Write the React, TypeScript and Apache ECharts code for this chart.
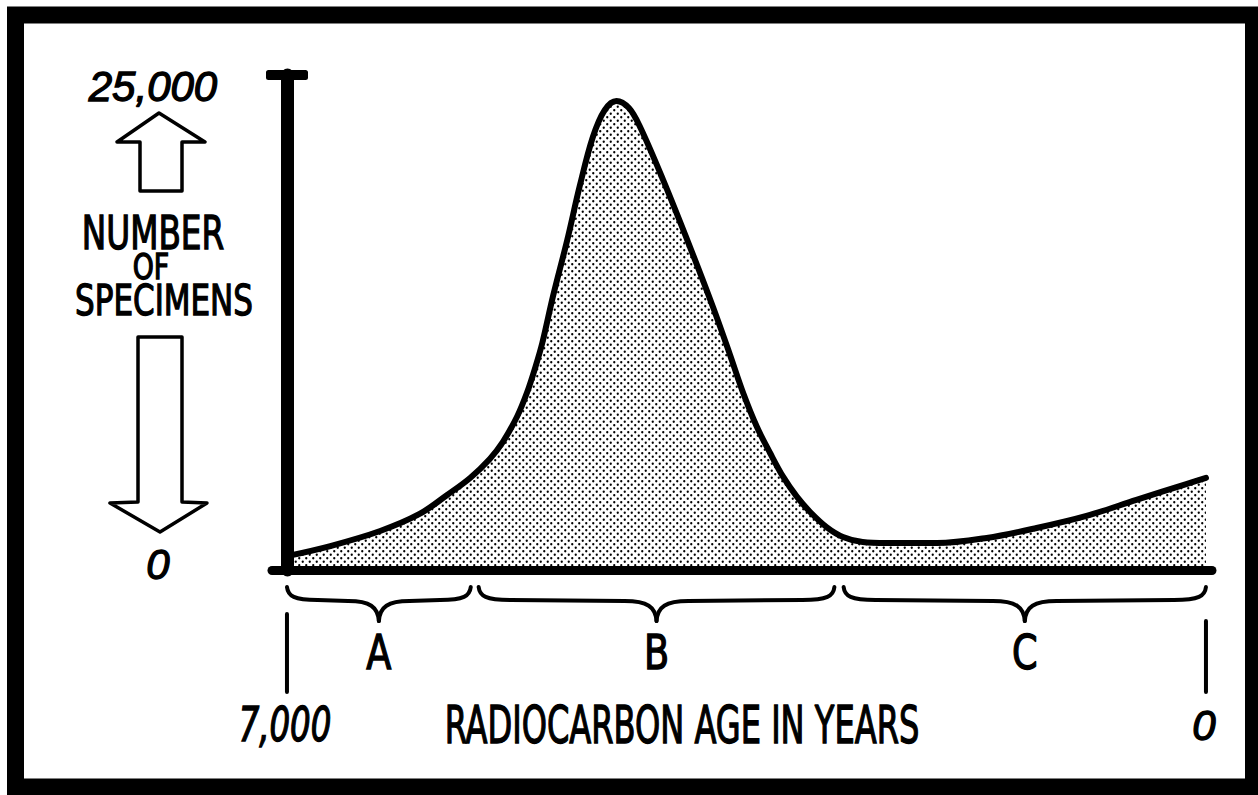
import React, { useEffect, useRef } from "react";
import * as echarts from "echarts";

// Radiocarbon age (years) and number of specimens
const AGES = [7000, 6670, 6290, 5990, 5780, 5605, 5455, 5355, 5245, 5170, 5110, 5055, 4975, 4865, 4770, 4670, 4580, 4490, 4395, 4310, 4135, 3930, 3755, 3625, 3525, 3420, 3320, 3220, 3115, 3015, 2890, 2765, 2615, 2430, 2050, 1670, 1290, 910, 530, 150, 0];
const COUNTS = [700, 1210, 1970, 2830, 3790, 4650, 5610, 6470, 7780, 8990, 10200, 11470, 13790, 16670, 19390, 21870, 23230, 23690, 23330, 22370, 19700, 16310, 13280, 10860, 8940, 7220, 5910, 4700, 3690, 2930, 2170, 1670, 1410, 1360, 1360, 1620, 2120, 2730, 3540, 4340, 4650];

const X_MIN = -46;
const X_MAX = 7114;
const Y_MAX = 25000;
const Y_TOP_LABEL = "25,000";
const Y_BOTTOM_LABEL = "0";
const Y_TITLE = ["NUMBER", "OF", "SPECIMENS"];
const X_TITLE = "RADIOCARBON AGE IN YEARS";
const END_TICKS = [7000, 0];
const END_TICK_LABELS = ["7,000", "0"];
const PERIODS = ["A", "B", "C"];
const PERIOD_RANGES = [
  [7000, 5600],
  [5540, 2830],
  [2760, 0],
];

const NARROW = "'Liberation Sans Narrow', 'DejaVu Sans Condensed', sans-serif";
const SANS = "'Liberation Sans', 'DejaVu Sans', sans-serif";

function txt(text: string, x: number, y: number, size: number, opts: any = {}) {
  return {
    type: "text",
    x,
    y,
    scaleX: opts.scaleX ?? 1,
    z: 10,
    style: {
      text,
      fill: "#000",
      stroke: "#000",
      lineWidth: opts.stroke ?? 1.3,
      fontSize: size,
      fontFamily: opts.family ?? NARROW,
      fontStyle: opts.italic ? "italic" : "normal",
      textAlign: "center",
      textVerticalAlign: "middle",
    },
  };
}

function brace(xa: number, xb: number) {
  const y0 = 587;
  const y1 = 600;
  const y2 = 621;
  const xm = (xa + xb) / 2;
  const r = Math.min(32, (xb - xa) / 6);
  const st = { stroke: "#000", lineWidth: 4, fill: null, lineCap: "round" };
  const bz = (x1: number, y1_: number, cpx1: number, cpy1: number, cpx2: number, cpy2: number, x2: number, y2_: number) => ({
    type: "bezierCurve",
    shape: { x1, y1: y1_, cpx1, cpy1, cpx2, cpy2, x2, y2: y2_ },
    style: st,
  });
  const ln = (x1: number, y1_: number, x2: number, y2_: number) => ({
    type: "line",
    shape: { x1, y1: y1_, x2, y2: y2_ },
    style: st,
  });
  return {
    type: "group",
    children: [
      bz(xa, y0, xa + 1, y1 - 4, xa + 7, y1, xa + r, y1),
      ln(xa + r, y1, xm - r, y1 + 1),
      bz(xm - r, y1 + 1, xm - 9, y1 + 1, xm - 1, y1 + 7, xm, y2),
      bz(xm, y2, xm + 1, y1 + 7, xm + 9, y1 + 1, xm + r, y1 + 1),
      ln(xm + r, y1 + 1, xb - r, y1),
      bz(xb - r, y1, xb - 7, y1, xb - 1, y1 - 4, xb, y0),
    ],
  };
}

export default function App() {
  const ref = useRef<HTMLDivElement>(null);

  useEffect(() => {
    const el = ref.current;
    if (!el) return;
    const chart = echarts.init(el, null, { renderer: "svg" });

    const cv = document.createElement("canvas");
    cv.width = 7;
    cv.height = 7;
    const c = cv.getContext("2d");
    if (c) {
      c.fillStyle = "#000";
      c.beginPath();
      c.arc(1.75, 1.75, 1.15, 0, Math.PI * 2);
      c.fill();
      c.beginPath();
      c.arc(5.25, 5.25, 1.15, 0, Math.PI * 2);
      c.fill();
    }

    chart.setOption({
      animation: false,
      backgroundColor: "#fff",
      grid: { left: 272, right: 46, top: 75, bottom: 225 },
      xAxis: {
        type: "value",
        min: X_MIN,
        max: X_MAX,
        inverse: true,
        axisLine: { show: true, lineStyle: { color: "#000", width: 9, cap: "round" } },
        axisTick: { show: false },
        axisLabel: { show: false },
        splitLine: { show: false },
      },
      yAxis: {
        type: "value",
        min: 0,
        max: Y_MAX,
        offset: -15,
        axisLine: {
          show: true,
          onZero: false,
          symbol: ["none", "roundRect"],
          symbolSize: [42, 10],
          lineStyle: { color: "#000", width: 13 },
        },
        axisTick: { show: false },
        axisLabel: { show: false },
        splitLine: { show: false },
      },
      series: [
        {
          type: "line",
          data: AGES.map((a, i) => [a, COUNTS[i]]),
          smooth: 0.35,
          symbol: "none",
          lineStyle: { color: "#000", width: 6, cap: "round", join: "round" },
          areaStyle: { color: { image: cv, repeat: "repeat" }, opacity: 1 },
        },
      ],
    });

    const px = (v: number) => chart.convertToPixel({ xAxisIndex: 0 }, v) as number;

    const graphics: any[] = [
      {
        type: "rect",
        shape: { x: 15.5, y: 15, width: 1238, height: 772 },
        style: { fill: null, stroke: "#000", lineWidth: 17 },
      },
      {
        type: "polygon",
        shape: { points: [[159, 113], [205, 142], [182, 142], [182, 191], [140, 191], [140, 142], [117, 142]] },
        style: { fill: "#fff", stroke: "#000", lineWidth: 3.5, lineJoin: "round" },
      },
      {
        type: "polygon",
        shape: { points: [[138, 337], [182, 337], [182, 502], [207, 503], [160, 532], [110, 503], [138, 502]] },
        style: { fill: "#fff", stroke: "#000", lineWidth: 3.5, lineJoin: "round" },
      },
      txt(Y_TOP_LABEL, 153, 86, 42, { italic: true, family: SANS }),
      txt(Y_TITLE[0], 153, 233, 46, { scaleX: 0.79 }),
      txt(Y_TITLE[1], 151, 267, 35, { scaleX: 0.85 }),
      txt(Y_TITLE[2], 164, 300, 42, { scaleX: 0.82 }),
      txt(Y_BOTTOM_LABEL, 158, 564, 42, { italic: true, family: SANS }),
      txt(X_TITLE, 682, 725, 51, { scaleX: 0.7 }),
    ];

    END_TICKS.forEach((v, i) => {
      const x = px(v);
      graphics.push({
        type: "line",
        shape: { x1: x, y1: i === 0 ? 614 : 621, x2: x, y2: 692 },
        style: { stroke: "#000", lineWidth: 4, lineCap: "round" },
      });
      graphics.push(
        txt(END_TICK_LABELS[i], x - 2, 725, i === 0 ? 48 : 42, {
          italic: true,
          family: i === 0 ? NARROW : SANS,
          scaleX: i === 0 ? 0.75 : 1,
        })
      );
    });

    PERIOD_RANGES.forEach((r, i) => {
      const xa = px(r[0]);
      const xb = px(r[1]);
      graphics.push(brace(xa, xb));
      graphics.push(txt(PERIODS[i], (xa + xb) / 2, 653, 48, { scaleX: 0.85 }));
    });

    chart.setOption({ graphic: graphics });

    return () => chart.dispose();
  }, []);

  return (
    <div
      ref={ref}
      style={{ position: "fixed", left: 0, top: 0, width: 1258, height: 795 }}
    />
  );
}
